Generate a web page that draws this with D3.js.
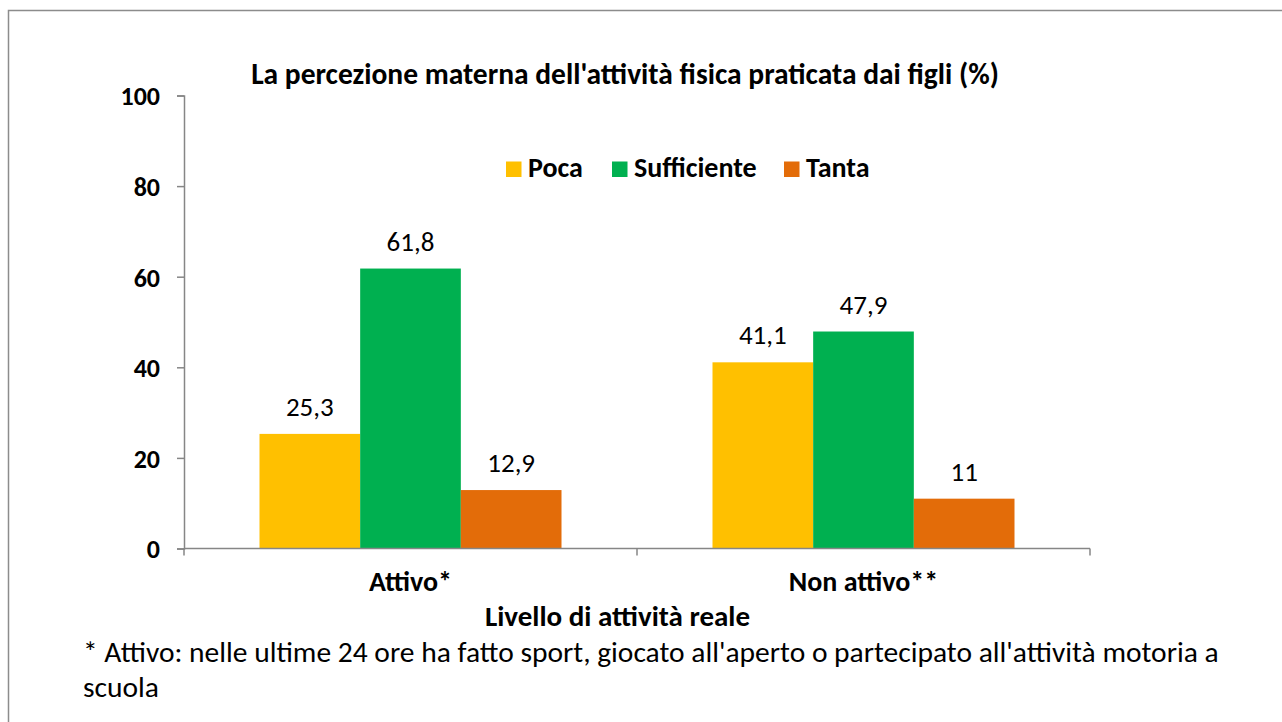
<!DOCTYPE html>
<html><head><meta charset="utf-8">
<script src="https://cdn.jsdelivr.net/npm/d3@7"></script>
<style>body{margin:0;background:#fff;} svg{display:block;} text{font-family:Carlito,Calibri,Lato,"Open Sans",sans-serif;fill:#000;}</style>
</head><body><svg id="c" width="1282" height="722"></svg>
<script>
const categories = ["Attivo*", "Non attivo**"];
const seriesNames = ["Poca", "Sufficiente", "Tanta"];
const poca = [25.3, 41.1];
const sufficiente = [61.8, 47.9];
const tanta = [12.9, 11];
const yTicks = [0, 20, 40, 60, 80, 100];
const colors = ["#FFC000", "#00B050", "#E36C09"];
const title = "La percezione materna dell'attività fisica praticata dai figli (%)";
const xTitle = "Livello di attività reale";
const foot1 = "* Attivo: nelle ultime 24 ore ha fatto sport, giocato all'aperto o partecipato all'attività motoria a";
const foot2 = "scuola";

const svg = d3.select("#c");
svg.append("rect").attr("x",8.5).attr("y",10.5).attr("width",1300).attr("height",800)
  .attr("fill","none").attr("stroke","#8c8c8c").attr("stroke-width",1.5);

const pL=184, pR=1090, pT=95.5, pB=548.5;
const y = d3.scaleLinear().domain([0,100]).range([pB, pT]);
const x0 = d3.scaleBand().domain(categories).range([pL,pR]).paddingInner(0).paddingOuter(0);
const x1 = d3.scaleBand().domain(seriesNames).range([0, x0.bandwidth()]).paddingOuter(0.75).paddingInner(0);
const data = [poca, sufficiente, tanta];
const fmt = v => String(v).replace(".", ",");

const g = svg.append("g");
categories.forEach((c,ci)=>{
  seriesNames.forEach((s,si)=>{
    const v = data[si][ci];
    g.append("rect").attr("x", x0(c)+x1(s)).attr("y", y(v)).attr("width", x1.bandwidth()).attr("height", y(0)-y(v)).attr("fill", colors[si]);
    g.append("text").attr("x", x0(c)+x1(s)+x1.bandwidth()/2).attr("y", y(v)-18).attr("text-anchor","middle")
      .style("font-size","27px").text(fmt(v));
  });
});

// y axis
const ya = svg.append("g").attr("transform",`translate(${pL},0)`)
  .call(d3.axisLeft(y).tickValues(yTicks).tickSize(7).tickPadding(17));
ya.select(".domain").attr("stroke","#868686").attr("stroke-width",1.5);
ya.selectAll(".tick line").attr("stroke","#868686").attr("stroke-width",1.5);
ya.selectAll(".tick text").style("font-size","26px").style("font-weight","bold").attr("fill","#000").attr("dy","0.36em");

// x axis
const xa = svg.append("g").attr("transform",`translate(0,${pB})`)
  .call(d3.axisBottom(x0).tickSize(0).tickFormat(()=>""));
xa.select(".domain").attr("stroke","#868686").attr("stroke-width",1.5).attr("d", `M${pL},0H${pR}`);
const bounds = [pL].concat(categories.map(c=>x0(c)+x0.bandwidth()));
bounds.forEach(b=>svg.append("line").attr("x1",b).attr("x2",b).attr("y1",pB).attr("y2",pB+7).attr("stroke","#868686").attr("stroke-width",1.5));
categories.forEach(c=>svg.append("text").attr("x",x0(c)+x0.bandwidth()/2).attr("y",591).attr("text-anchor","middle")
  .style("font-size","28px").style("font-weight","bold").text(c));

svg.append("text").attr("x",617.5).attr("y",626).attr("text-anchor","middle").style("font-size","29px").style("font-weight","bold").text(xTitle);
svg.append("text").attr("x",625).attr("y",84).attr("text-anchor","middle").style("font-size","29.5px").style("font-weight","bold").text(title);

// legend
const legX = [506, 612, 784];
seriesNames.forEach((s,i)=>{
  svg.append("rect").attr("x",legX[i]).attr("y",161.5).attr("width",15.5).attr("height",15.5).attr("fill",colors[i]);
  svg.append("text").attr("x",legX[i]+22).attr("y",177).style("font-size","28px").style("font-weight","bold").text(s);
});

svg.append("text").attr("x",83).attr("y",662).style("font-size","29.5px").text(foot1);
svg.append("text").attr("x",83).attr("y",697).style("font-size","29.5px").text(foot2);
</script></body></html>
